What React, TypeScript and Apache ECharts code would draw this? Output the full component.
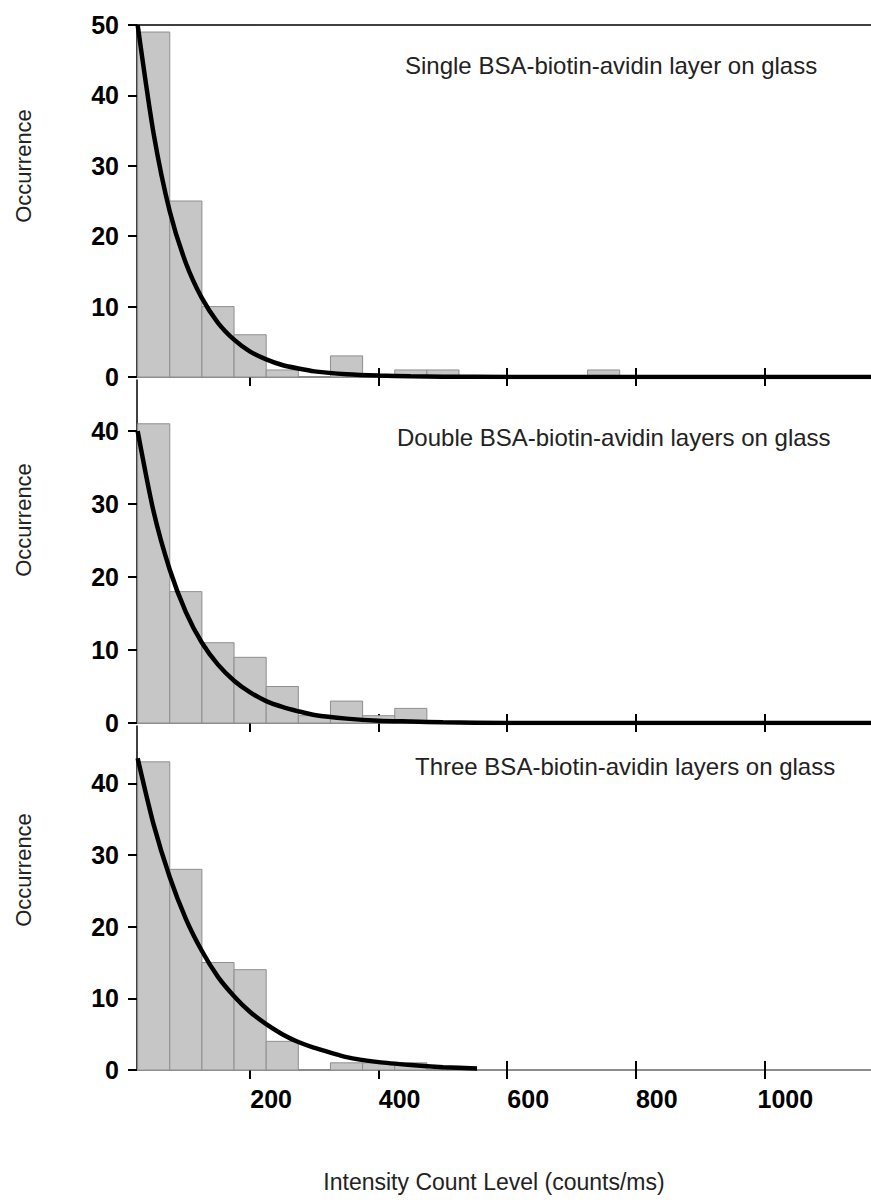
import React, { useEffect, useRef } from "react";
import * as echarts from "echarts";

// ---- data ----
const binCenters = [50, 100, 150, 200, 250, 300, 350, 400, 450, 500, 550, 600, 650, 700, 750];
const binWidth = 50;
const singleCounts = [49, 25, 10, 6, 1, 0, 3, 0, 1, 1, 0, 0, 0, 0, 1];
const doubleCounts = [41, 18, 11, 9, 5, 1, 3, 1, 2, 0, 0, 0, 0, 0, 0];
const threeCounts = [43, 28, 15, 14, 4, 0, 1, 1, 1, 0, 0, 0, 0, 0, 0];

const fitX = [25, 50, 75, 100, 125, 150, 175, 200, 225, 250, 275, 300, 350, 400, 450, 500, 600, 800, 1166];
const singleFit = [50, 34.5, 23.5, 16.2, 11.2, 7.7, 5.3, 3.6, 2.5, 1.7, 1.2, 0.8, 0.4, 0.2, 0.1, 0.05, 0, 0, 0];
const doubleFit = [40, 28.9, 21, 15.2, 11, 8, 5.8, 4.2, 3.0, 2.2, 1.6, 1.1, 0.6, 0.3, 0.2, 0.1, 0, 0, 0];
const threeFitX = [25, 50, 75, 100, 125, 150, 175, 200, 225, 250, 275, 300, 350, 400, 450, 500, 553];
const threeFit = [43.5, 34.2, 26.9, 21.1, 16.6, 13, 10.3, 8.1, 6.4, 5, 3.9, 3.1, 1.8, 1.1, 0.7, 0.4, 0.2];

const xTicks = [200, 400, 600, 800, 1000];
const yMaxes = [50, 47, 48];
const panelTitles = [
  "Single BSA-biotin-avidin layer on glass",
  "Double BSA-biotin-avidin layers on glass",
  "Three BSA-biotin-avidin layers on glass",
];
const yAxisTitle = "Occurrence";
const xAxisTitle = "Intensity Count Level (counts/ms)";

const FONT = "'Liberation Sans', Arial, sans-serif";
const X_MIN = 24;
const X_MAX = 1166;

const grids = [
  { left: 137, top: 25, width: 734, height: 352 },
  { left: 137, top: 380, width: 734, height: 343 },
  { left: 137, top: 726, width: 734, height: 344 },
];

export default function App() {
  const ref = useRef<HTMLDivElement>(null);
  useEffect(() => {
    if (!ref.current) return;
    const chart = echarts.init(ref.current, undefined, { renderer: "svg" });
    const countsAll = [singleCounts, doubleCounts, threeCounts];
    const fits = [
      fitX.map((x, i) => [x, singleFit[i]]),
      fitX.map((x, i) => [x, doubleFit[i]]),
      threeFitX.map((x, i) => [x, threeFit[i]]),
    ];

    const xAxes: any[] = [];
    const yAxes: any[] = [];
    const series: any[] = [];

    grids.forEach((g, p) => {
      const base = xAxes.length;
      xAxes.push({
        type: "value",
        gridIndex: p,
        position: "bottom",
        min: X_MIN,
        max: X_MAX,
        axisLine: { show: true, onZero: false, lineStyle: { color: "#8c8c8c", width: 2 } },
        axisTick: { show: true, customValues: xTicks, length: 9, lineStyle: { color: "#000", width: 2 } },
        axisLabel: p === 2
          ? {
              show: true,
              customValues: xTicks,
              formatter: (v: number) => String(v),
              fontSize: 25,
              fontWeight: "bold",
              fontFamily: FONT,
              color: "#000",
              margin: 16,
              padding: [0, 0, 0, 42],
            }
          : { show: false },
        splitLine: { show: false },
      });
      xAxes.push({
        type: "value",
        gridIndex: p,
        position: "bottom",
        min: X_MIN,
        max: X_MAX,
        axisLine: { show: false, onZero: false },
        axisTick: { show: true, inside: true, customValues: xTicks, length: 9, lineStyle: { color: "#000", width: 2 } },
        axisLabel: { show: false },
        splitLine: { show: false },
      });
      if (p === 0) {
        xAxes.push({
          type: "value",
          gridIndex: p,
          position: "top",
          min: X_MIN,
          max: X_MAX,
          axisLine: { show: true, onZero: false, lineStyle: { color: "#000", width: 1.5 } },
          axisTick: { show: false },
          axisLabel: { show: false },
          splitLine: { show: false },
        });
      }
      const yTicks: number[] = [];
      for (let v = 0; v <= yMaxes[p]; v += 10) yTicks.push(v);
      yAxes.push({
        type: "value",
        gridIndex: p,
        min: 0,
        max: yMaxes[p],
        axisLine: { show: true, lineStyle: { color: "#000", width: 1.5 } },
        axisTick: { show: true, customValues: yTicks, length: 9, lineStyle: { color: "#000", width: 2 } },
        axisLabel: {
          show: true,
          customValues: yTicks,
          fontSize: 25,
          fontWeight: "bold",
          fontFamily: FONT,
          color: "#000",
          margin: 18,
        },
        splitLine: { show: false },
      });

      const counts = countsAll[p];
      series.push({
        type: "custom",
        xAxisIndex: base,
        yAxisIndex: p,
        data: binCenters
          .map((c, i) => [c - binWidth / 2, c + binWidth / 2, counts[i]])
          .filter((d) => d[2] > 0),
        encode: { x: [0, 1], y: 2 },
        renderItem: (params: any, api: any) => {
          const p0 = api.coord([api.value(0), 0]);
          const p1 = api.coord([api.value(1), api.value(2)]);
          return {
            type: "rect",
            shape: { x: p0[0], y: p1[1], width: p1[0] - p0[0], height: p0[1] - p1[1] },
            style: { fill: "#c6c6c6", stroke: "#8f8f8f", lineWidth: 1 },
          };
        },
        z: 2,
      });
      series.push({
        type: "line",
        xAxisIndex: base,
        yAxisIndex: p,
        data: fits[p],
        smooth: 0.25,
        symbol: "none",
        lineStyle: { color: "#000", width: 4.5 },
        z: 5,
      });
    });

    const graphics: any[] = [];
    const occY = [166, 520, 870];
    occY.forEach((y) => {
      graphics.push({
        type: "text",
        x: 23,
        y,
        rotation: Math.PI / 2,
        style: {
          text: yAxisTitle,
          fontSize: 22,
          fontFamily: FONT,
          fill: "#222",
          align: "center",
          verticalAlign: "middle",
        },
      });
    });
    const titlePos = [
      [405, 65],
      [397, 437],
      [415, 766],
    ];
    panelTitles.forEach((t, i) => {
      graphics.push({
        type: "text",
        x: titlePos[i][0],
        y: titlePos[i][1],
        style: {
          text: t,
          fontSize: 24,
          fontFamily: FONT,
          fill: "#222",
          align: "left",
          verticalAlign: "middle",
        },
      });
    });
    graphics.push({
      type: "text",
      x: 494,
      y: 1182,
      style: {
        text: xAxisTitle,
        fontSize: 23,
        fontFamily: FONT,
        fill: "#222",
        align: "center",
        verticalAlign: "middle",
      },
    });

    chart.setOption({
      animation: false,
      backgroundColor: "#fff",
      grid: grids.map((g) => ({ ...g, containLabel: false })),
      xAxis: xAxes,
      yAxis: yAxes,
      series,
      graphic: graphics,
    });
    return () => chart.dispose();
  }, []);
  return (
    <div
      ref={ref}
      style={{ position: "absolute", left: 0, top: 0, width: 871, height: 1202, background: "#fff" }}
    />
  );
}
